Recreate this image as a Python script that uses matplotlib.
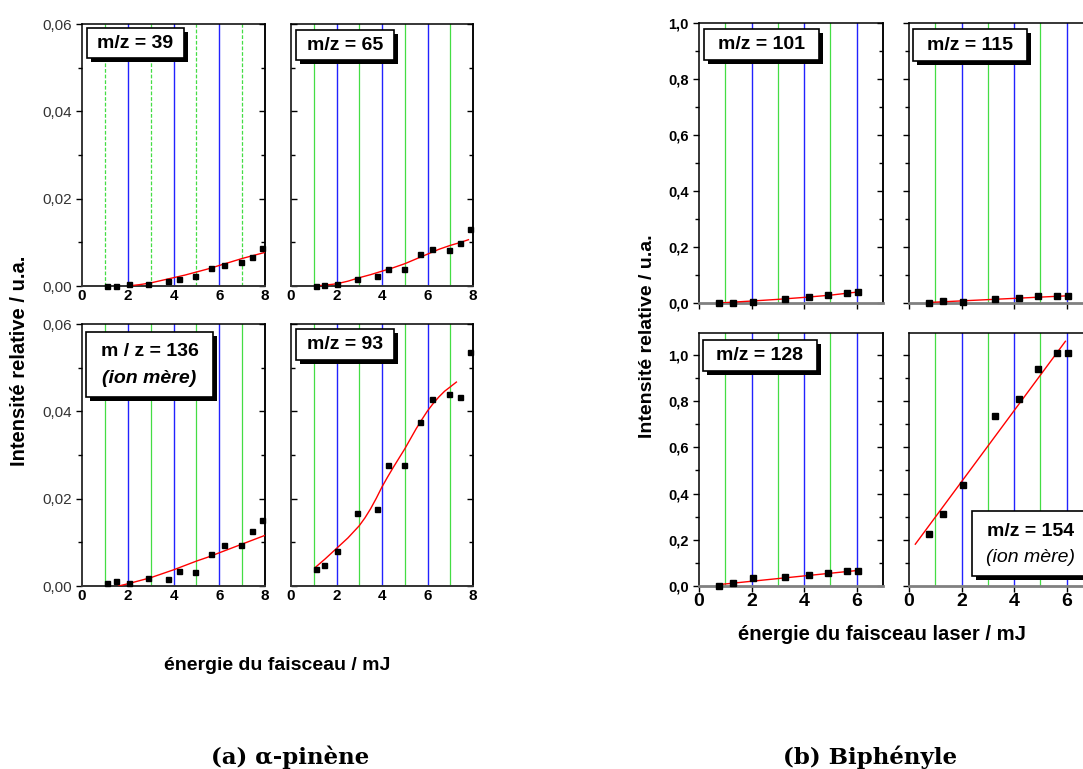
import matplotlib
matplotlib.use("Agg")
import matplotlib.pyplot as plt
from matplotlib.patches import Rectangle
from matplotlib.ticker import MultipleLocator, FuncFormatter

plt.rcParams['font.family'] = ['Liberation Sans', 'DejaVu Sans']

W, H = 1083, 769

# ---------------- data: (a) alpha-pinene ----------------
x_a = [1.11, 1.47, 2.04, 2.88, 3.78, 4.25, 4.96, 5.65, 6.21, 6.96, 7.44, 7.89]
y_39 = [0.0, 0.0, 0.0004, 0.0005, 0.0011, 0.0017, 0.0023, 0.0041, 0.0047, 0.0054, 0.0067, 0.0088]
y_65 = [0.0, 0.0003, 0.0005, 0.0016, 0.0024, 0.0038, 0.0039, 0.0074, 0.0085, 0.0083, 0.0098, 0.0131]
y_136 = [0.0007, 0.0011, 0.0008, 0.0018, 0.0016, 0.0035, 0.0032, 0.0073, 0.0095, 0.0095, 0.0125, 0.0151]
y_93 = [0.0040, 0.0047, 0.0081, 0.0167, 0.0177, 0.0276, 0.0276, 0.0375, 0.0429, 0.0440, 0.0433, 0.0535]

fit_x_39 = [2.0, 2.5, 3.0, 3.5, 4.0, 4.5, 5.0, 5.5, 6.0, 6.5, 7.0, 7.5, 8.0]
fit_y_39 = [0.0, 0.0003, 0.0007, 0.0013, 0.0019, 0.0025, 0.0032, 0.0039, 0.0047, 0.0055, 0.0063, 0.0070, 0.0077]
fit_x_65 = [1.1, 1.5, 2.0, 2.5, 3.0, 3.5, 4.0, 4.5, 5.0, 5.5, 6.0, 6.5, 7.0, 7.4, 7.8]
fit_y_65 = [0.0, 0.0002, 0.0005, 0.0011, 0.0019, 0.0026, 0.0034, 0.0042, 0.0051, 0.0062, 0.0073, 0.0084, 0.0093, 0.0099, 0.0106]
fit_x_136 = [1.6, 2.0, 2.5, 3.0, 3.5, 4.0, 4.5, 5.0, 5.5, 6.0, 6.5, 7.0, 7.5, 8.0]
fit_y_136 = [0.0, 0.0005, 0.0012, 0.0019, 0.0028, 0.0037, 0.0047, 0.0057, 0.0066, 0.0076, 0.0086, 0.0096, 0.0106, 0.0116]
fit_x_93 = [1.1, 1.5, 2.0, 2.5, 3.0, 3.25, 3.5, 3.75, 4.0, 4.25, 4.5, 4.75, 5.0,
            5.25, 5.5, 5.75, 6.0, 6.25, 6.5, 6.75, 7.0, 7.27]
fit_y_93 = [0.0044, 0.0062, 0.0086, 0.0110, 0.0138, 0.0156, 0.0177, 0.0201, 0.0227, 0.0250,
            0.0272, 0.0293, 0.0314, 0.0337, 0.0360, 0.0381, 0.0401, 0.0418, 0.0433, 0.0446,
            0.0456, 0.0467]

# ---------------- data: (b) biphenyle ----------------
x_b = [0.76, 1.31, 2.07, 3.29, 4.18, 4.91, 5.63, 6.04]
y_101 = [0.0, 0.0, 0.002, 0.015, 0.021, 0.029, 0.036, 0.039]
y_115 = [0.001, 0.008, 0.004, 0.014, 0.017, 0.024, 0.024, 0.025]
y_128 = [0.001, 0.014, 0.033, 0.040, 0.048, 0.056, 0.064, 0.065]
y_154 = [0.224, 0.312, 0.438, 0.737, 0.809, 0.939, 1.010, 1.010]

fit_x_101 = [0.76, 2.0, 3.0, 4.0, 5.0, 6.1]
fit_y_101 = [0.0, 0.007, 0.013, 0.020, 0.028, 0.040]
fit_x_115 = [0.77, 6.1]
fit_y_115 = [0.002, 0.026]
fit_x_128 = [0.75, 6.1]
fit_y_128 = [0.006, 0.068]
fit_x_154 = [0.24, 5.95]
fit_y_154 = [0.181, 1.059]

green_a = [1, 3, 5, 7]
blue_a = [2, 4, 6]
green_b = [1, 3, 5]
blue_b = [2, 4, 6]

xticks_a = [0, 2, 4, 6, 8]
xticks_b = [0, 2, 4, 6]

fig = plt.figure(figsize=(W / 100, H / 100), dpi=100)


def add_ax(l, t, r, b):
    return fig.add_axes([l / W, 1 - b / H, (r - l) / W, (b - t) / H])


def fx(px):
    return px / W


def fy(py):
    return 1 - py / H


def label_box(ax, l, t, r, b, lines):
    """lines: list of (text, y_pixel, weight, style, size)"""
    sh = Rectangle((fx(l + 4), fy(b + 4)), (r - l) / W, (b - t) / H,
                   transform=fig.transFigure, fc='black', ec='black',
                   lw=0, zorder=6, clip_on=False)
    bx = Rectangle((fx(l), fy(b)), (r - l) / W, (b - t) / H,
                   transform=fig.transFigure, fc='white', ec='black',
                   lw=1.2, zorder=7, clip_on=False)
    ax.add_patch(sh)
    ax.add_patch(bx)
    for txt, py, wt, st, sz in lines:
        ax.text(fx((l + r) / 2), fy(py), txt, transform=fig.transFigure,
                ha='center', va='center', fontsize=sz, fontweight=wt,
                fontstyle=st, zorder=8, clip_on=False)


def style_common(ax, green, blue, green_ls='-'):
    for g in green:
        ax.axvline(g, color='#44dd44', lw=0.9, ls=green_ls, zorder=1)
    for bl in blue:
        ax.axvline(bl, color='#2222ff', lw=1.0, zorder=1)
    for s in ['top', 'right', 'left']:
        ax.spines[s].set_linewidth(1.1)
        ax.spines[s].set_color('black')


def right_ticks(ax, major, minor):
    sec = ax.secondary_yaxis('right')
    sec.yaxis.set_major_locator(MultipleLocator(major))
    sec.yaxis.set_minor_locator(MultipleLocator(minor))
    sec.tick_params(axis='y', which='both', direction='in', labelright=False,
                    width=1)
    sec.tick_params(axis='y', which='major', length=4)
    sec.tick_params(axis='y', which='minor', length=3)
    sec.spines['right'].set_linewidth(1.1)
    return sec


comma = FuncFormatter(lambda v, p: ('%.2f' % v).replace('.', ','))
comma1 = FuncFormatter(lambda v, p: ('%.1f' % v).replace('.', ','))

# ---------------- panels (a) ----------------
panels_a = [
    ((82, 24, 265, 286), y_39, fit_x_39, fit_y_39, True, True),
    ((291, 24, 473, 286), y_65, fit_x_65, fit_y_65, False, False),
    ((82, 324, 265, 586), y_136, fit_x_136, fit_y_136, True, False),
    ((291, 324, 473, 586), y_93, fit_x_93, fit_y_93, False, False),
]
axes_a = []
for (box, ys, fxs, fys, lab, dashed) in panels_a:
    ax = add_ax(*box)
    axes_a.append(ax)
    style_common(ax, green_a, blue_a, (0, (3, 1.5)) if dashed else '-')
    ax.spines['bottom'].set_color('#333333')
    ax.spines['bottom'].set_linewidth(1.4)
    ax.plot(fxs, fys, color='red', lw=1.0, zorder=3)
    ax.plot(x_a, ys, 's', color='black', ms=3.6, zorder=4, clip_on=False)
    ax.set_xlim(0, 8)
    ax.set_ylim(0, 0.06)
    ax.set_xticks(xticks_a)
    ax.yaxis.set_major_locator(MultipleLocator(0.02))
    ax.yaxis.set_minor_locator(MultipleLocator(0.01))
    ax.yaxis.set_major_formatter(comma)
    ax.tick_params(axis='x', length=0, labelsize=11, pad=2)
    for t in ax.get_xticklabels():
        t.set_fontweight('bold')
    ax.tick_params(axis='y', which='both', right=False,
                   direction='out' if lab else 'in', width=1,
                   labelsize=11, labelcolor='#333333', labelleft=lab)
    ax.tick_params(axis='y', which='major', length=4)
    ax.tick_params(axis='y', which='minor', length=3)
    right_ticks(ax, 0.02, 0.01)

label_box(axes_a[0], 87, 28, 184, 58, [('m/z = 39', 43.5, 'bold', 'normal', 14)])
label_box(axes_a[1], 296, 30, 394, 60, [('m/z = 65', 45.5, 'bold', 'normal', 14)])
label_box(axes_a[2], 86, 332, 213, 397,
          [('m / z = 136', 352, 'bold', 'normal', 14),
           ('(ion mère)', 379, 'bold', 'italic', 14)])
label_box(axes_a[3], 296, 329, 394, 360, [('m/z = 93', 344.5, 'bold', 'normal', 14)])

fig.text(fx(20), fy(361), 'Intensité relative / u.a.', rotation=90,
         ha='center', va='center', fontsize=14.5, fontweight='bold')
fig.text(fx(277), fy(665), 'énergie du faisceau / mJ',
         ha='center', va='center', fontsize=14, fontweight='bold')

# ---------------- panels (b) ----------------
panels_b = [
    ((699, 23, 883, 303), y_101, fit_x_101, fit_y_101, True, False, 1.0),
    ((909, 23, 1093, 303), y_115, fit_x_115, fit_y_115, False, False, 1.0),
    ((699, 333, 883, 586), y_128, fit_x_128, fit_y_128, True, True, 1.095),
    ((909, 333, 1093, 586), y_154, fit_x_154, fit_y_154, False, True, 1.095),
]
axes_b = []
for (box, ys, fxs, fys, lab, xlab, ytop) in panels_b:
    ax = add_ax(*box)
    axes_b.append(ax)
    style_common(ax, green_b, blue_b)
    ax.spines['bottom'].set_color('#808080')
    ax.spines['bottom'].set_linewidth(2.0)
    ax.plot(fxs, fys, color='red', lw=1.0, zorder=3)
    ax.plot(x_b, ys, 's', color='black', ms=4.6, zorder=4, clip_on=False)
    ax.set_xlim(0, 7)
    ax.set_ylim(0, ytop)
    ax.set_xticks(xticks_b)
    ax.yaxis.set_major_locator(MultipleLocator(0.2))
    ax.yaxis.set_minor_locator(MultipleLocator(0.1))
    ax.yaxis.set_major_formatter(comma1)
    ax.tick_params(axis='x', direction='out', length=4, width=1,
                   labelsize=14, labelbottom=xlab, pad=1)
    for t in ax.get_xticklabels():
        t.set_fontweight('bold')
    ax.tick_params(axis='y', which='both', right=False, direction='out',
                   width=1, labelsize=10.5, labelleft=lab)
    ax.tick_params(axis='y', which='major', length=4)
    ax.tick_params(axis='y', which='minor', length=3)
    for t in ax.get_yticklabels():
        t.set_fontweight('bold')
    right_ticks(ax, 0.2, 0.1)

label_box(axes_b[0], 704, 29, 819, 60, [('m/z = 101', 44.5, 'bold', 'normal', 14)])
label_box(axes_b[1], 913, 29, 1027, 61, [('m/z = 115', 45, 'bold', 'normal', 14)])
label_box(axes_b[2], 703, 340, 817, 371, [('m/z = 128', 355.5, 'bold', 'normal', 14)])
label_box(axes_b[3], 972, 511, 1090, 576,
          [('m/z = 154', 531, 'bold', 'normal', 14),
           ('(ion mère)', 558, 'normal', 'italic', 14)])

fig.text(fx(648), fy(336), 'Intensité relative / u.a.', rotation=90,
         ha='center', va='center', fontsize=14, fontweight='bold')
fig.text(fx(882), fy(635), 'énergie du faisceau laser / mJ',
         ha='center', va='center', fontsize=14.6, fontweight='bold')

# ---------------- captions ----------------
fig.text(fx(290), fy(757), '(a) α-pinène', ha='center', va='center',
         fontsize=16.5, fontweight='bold', family=['DejaVu Serif'])
fig.text(fx(870), fy(757), '(b) Biphényle', ha='center', va='center',
         fontsize=16.5, fontweight='bold', family=['DejaVu Serif'])

fig.savefig('out.png', dpi=100)
